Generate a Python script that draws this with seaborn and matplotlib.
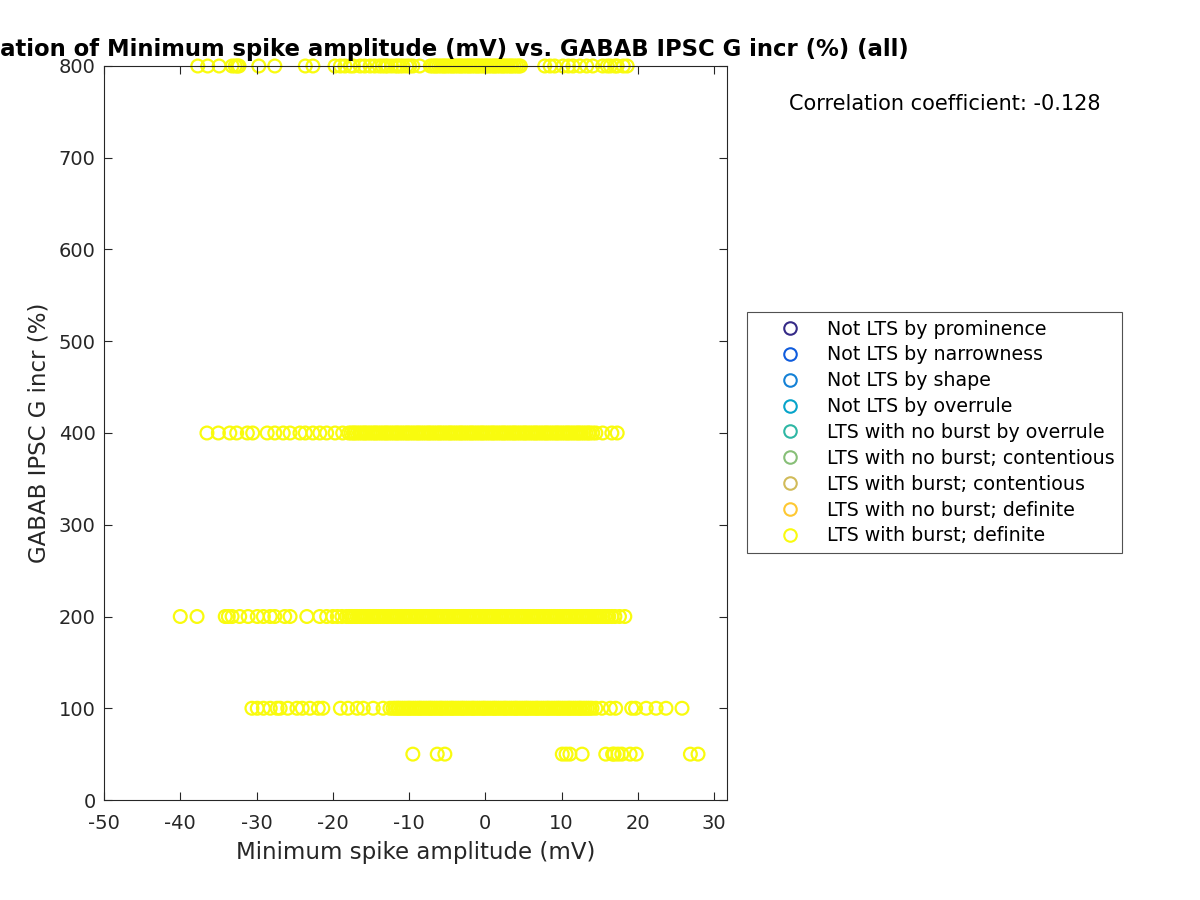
import numpy as np
import pandas as pd
import matplotlib
matplotlib.use("Agg")
import matplotlib.pyplot as plt
import seaborn as sns
from matplotlib.lines import Line2D

categories = ["Not LTS by prominence", "Not LTS by narrowness", "Not LTS by shape",
              "Not LTS by overrule", "LTS with no burst by overrule",
              "LTS with no burst; contentious", "LTS with burst; contentious",
              "LTS with no burst; definite", "LTS with burst; definite"]
cat_colors = ["#352A87", "#0F5CDD", "#1481D6", "#06A4CA", "#2EB7A4",
              "#87BF77", "#D1BB59", "#FEC832", "#F9FB0E"]

# Minimum spike amplitude (mV) at GABAB IPSC G incr = 800 %
x_800 = [-37.7, -36.4, -34.9, -33.2, -32.8, -32.5, -32.3, -29.7, -27.6, -23.6, -22.6,
         -19.7, -19.0, -18.4, -17.7, -17.3, -16.4, -15.8, -15.1, -14.5, -13.9, -13.5,
         -13.1, -12.8, -12.3, -11.8, -11.5, -11.2, -10.8, -10.3, -9.9, -9.5, -8.6, -7.2,
         -6.9, -6.6, -6.4, -6.1, -5.8, -5.5, -5.3, -5.0, -4.7, -4.4, -4.2, -3.9, -3.6,
         -3.3, -3.1, -2.8, -2.5, -2.2, -2.0, -1.7, -1.4, -1.1, -0.9, -0.6, -0.3, 0.0,
         0.2, 0.5, 0.8, 1.1, 1.3, 1.6, 1.9, 2.2, 2.4, 2.7, 3.0, 3.3, 3.5, 3.8, 4.1,
         4.4, 4.6, 7.8, 8.5, 9.1, 10.2, 10.9, 11.5, 12.4, 13.3, 14.1, 15.4, 16.0,
         16.4, 17.0, 17.3, 18.1, 18.6]
# ... at 400 %
x_400 = [-36.5, -35.0, -33.5, -32.6, -31.2, -30.5, -28.6, -27.6, -26.5, -25.6, -24.3,
         -23.6, -22.6, -21.7, -20.8, -19.7, -18.7,
         -17.9, -17.6, -17.3, -17.1, -16.8, -16.5, -16.2, -15.9, -15.7, -15.4, -15.1,
         -14.8, -14.5, -14.3, -14.0, -13.7, -13.4, -13.1, -12.9, -12.6, -12.3, -12.0,
         -11.7, -11.5, -11.2, -10.9, -10.6, -10.3, -10.1, -9.8, -9.5, -9.2, -8.9, -8.7,
         -8.4, -8.1, -7.8, -7.5, -7.3, -7.0, -6.7, -6.4, -6.1, -5.9, -5.6, -5.3, -5.0,
         -4.7, -4.5, -4.2, -3.9, -3.6, -3.3, -3.1, -2.8, -2.5, -2.2, -1.9, -1.7, -1.4,
         -1.1, -0.8, -0.5, -0.3, 0.0, 0.3, 0.6, 0.9, 1.1, 1.4, 1.7, 2.0, 2.3, 2.5, 2.8,
         3.1, 3.4, 3.7, 3.9, 4.2, 4.5, 4.8, 5.1, 5.3, 5.6, 5.9, 6.2, 6.5, 6.7, 7.0,
         7.3, 7.6, 7.9, 8.1, 8.4, 8.7, 9.0, 9.3, 9.5, 9.8, 10.1, 10.4, 10.7, 10.9,
         11.2, 11.5, 11.8, 12.1, 12.3, 12.6, 12.9, 13.2, 13.5, 13.7,
         14.1, 14.5, 15.4, 16.6, 17.3]
# ... at 200 %
x_200 = [-40.0, -37.8, -34.1, -33.7, -33.2, -32.2, -31.1, -29.9, -29.1, -28.2, -27.6,
         -26.3, -25.6, -23.4, -21.7, -20.8, -20.0, -19.4, -18.8,
         -18.2, -17.9, -17.6, -17.4, -17.1, -16.8, -16.5, -16.2, -16.0, -15.7, -15.4,
         -15.1, -14.8, -14.6, -14.3, -14.0, -13.7, -13.4, -13.2, -12.9, -12.6, -12.3,
         -12.0, -11.8, -11.5, -11.2, -10.9, -10.6, -10.4, -10.1, -9.8, -9.5, -9.2,
         -9.0, -8.7, -8.4, -8.1, -7.8, -7.6, -7.3, -7.0, -6.7, -6.4, -6.2, -5.9, -5.6,
         -5.3, -5.0, -4.8, -4.5, -4.2, -3.9, -3.6, -3.4, -3.1, -2.8, -2.5, -2.2, -2.0,
         -1.7, -1.4, -1.1, -0.8, -0.6, -0.3, 0.0, 0.3, 0.6, 0.8, 1.1, 1.4, 1.7, 2.0,
         2.2, 2.5, 2.8, 3.1, 3.4, 3.6, 3.9, 4.2, 4.5, 4.8, 5.0, 5.3, 5.6, 5.9, 6.2,
         6.4, 6.7, 7.0, 7.3, 7.6, 7.8, 8.1, 8.4, 8.7, 9.0, 9.2, 9.5, 9.8, 10.1, 10.4,
         10.6, 10.9, 11.2, 11.5, 11.8, 12.0, 12.3, 12.6, 12.9, 13.2, 13.4, 13.7, 14.0,
         14.3, 14.6, 14.8, 15.1, 15.4, 15.7, 16.0, 16.2,
         16.6, 17.0, 17.6, 18.3]
# ... at 100 %
x_100 = [-30.6, -29.9, -29.1, -28.2, -27.3, -26.9, -25.9, -24.7, -24.0, -23.0, -21.9,
         -21.3, -19.0, -18.0, -16.8, -16.0, -14.7, -13.4, -12.5,
         -12.1, -11.8, -11.5, -11.3, -11.0, -10.7, -10.4, -10.1, -9.9, -9.6, -9.3,
         -9.0, -8.7, -8.5, -8.2, -7.9, -7.6, -7.3, -7.1, -6.8, -6.5, -6.2, -5.9, -5.7,
         -5.4, -5.1, -4.8, -4.5, -4.3, -4.0, -3.7, -3.4, -3.1, -2.9, -2.6, -2.3, -2.0,
         -1.7, -1.5, -1.2, -0.9, -0.6, -0.3, -0.1, 0.2, 0.5, 0.8, 1.1, 1.3, 1.6, 1.9,
         2.2, 2.5, 2.7, 3.0, 3.3, 3.6, 3.9, 4.1, 4.4, 4.7, 5.0, 5.3, 5.5, 5.8, 6.1,
         6.4, 6.7, 6.9, 7.2, 7.5, 7.8, 8.1, 8.3, 8.6, 8.9, 9.2, 9.5, 9.7, 10.0, 10.3,
         10.6, 10.9, 11.1, 11.4, 11.7, 12.0, 12.3, 12.5, 12.8, 13.1, 13.4, 13.7,
         14.0, 14.5, 15.3, 16.4, 17.1, 19.2, 19.7, 21.1, 22.4, 23.7, 25.8]
# ... at 50 %
x_50 = [-9.5, -6.3, -5.3, 10.1, 10.6, 11.1, 12.7, 15.8, 16.7, 16.9, 17.4, 17.9,
        19.0, 19.8, 26.9, 27.9]

x_ticks = [-50, -40, -30, -20, -10, 0, 10, 20, 30]
y_ticks = [0, 100, 200, 300, 400, 500, 600, 700, 800]
corr_value = -0.128

xs = x_800 + x_400 + x_200 + x_100 + x_50
ys = ([800] * len(x_800) + [400] * len(x_400) + [200] * len(x_200)
      + [100] * len(x_100) + [50] * len(x_50))
df = pd.DataFrame({"amp": xs, "gincr": ys, "cat": categories[-1]})

plt.rcParams['font.family'] = ['DejaVu Sans']
plt.rcParams['axes.unicode_minus'] = False
fig = plt.figure(figsize=(12, 9), dpi=100)
ax = fig.add_axes([104 / 1200, 100 / 900, (727 - 104) / 1200, (800 - 66) / 900])

palette = dict(zip(categories, cat_colors))
sns.scatterplot(data=df, x="amp", y="gincr", hue="cat", hue_order=categories,
                palette=palette, s=85, linewidth=1.6, legend=False, ax=ax)
for coll in ax.collections:
    fc = coll.get_facecolors()
    coll.set_edgecolors(fc)
    coll.set_facecolors("none")
    coll.set_clip_on(False)

ax.set_xlim(-50, 31.7)
ax.set_ylim(0, 800)
ax.set_xticks(x_ticks)
ax.set_yticks(y_ticks)
ax.tick_params(direction="in", top=True, right=True, length=6, width=0.8,
               labelsize=14, colors="#262626", labelcolor="#262626", pad=6)
ax.tick_params(axis="x", pad=10)
for sp in ax.spines.values():
    sp.set_color("#262626")
    sp.set_linewidth(0.8)
ax.set_xlabel("Minimum spike amplitude (mV)", fontsize=16.5, color="#262626", labelpad=6)
ax.set_ylabel("GABAB IPSC G incr (%)", fontsize=16.5, color="#262626", labelpad=6)
ax.set_title("Correlation of Minimum spike amplitude (mV) vs. GABAB IPSC G incr (%) (all)",
             fontsize=16.4, fontweight="bold", pad=7)

fig.text(945 / 1200, 1 - 104 / 900, f"Correlation coefficient: {corr_value}",
         ha="center", va="center", fontsize=15)

handles = [Line2D([], [], linestyle="none", marker="o", markersize=9,
                  markerfacecolor="none", markeredgecolor=c, markeredgewidth=1.5)
           for c in cat_colors]
leg = fig.legend(handles, categories, loc="upper left",
                 bbox_to_anchor=(747 / 1200, 1 - 312 / 900), bbox_transform=fig.transFigure,
                 borderaxespad=0, fontsize=13.7,
                 frameon=True, fancybox=False, edgecolor="#262626",
                 handletextpad=0.1, borderpad=0.4, labelspacing=0.36,
                 handlelength=3.7)
leg.get_frame().set_linewidth(0.8)

fig.savefig("out.png", dpi=100)
